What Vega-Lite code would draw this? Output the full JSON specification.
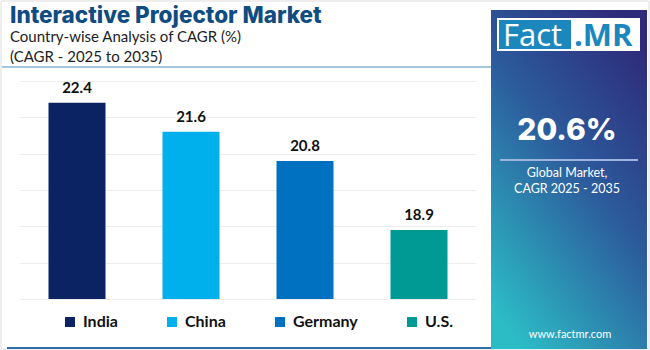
{
  "$schema": "https://vega.github.io/schema/vega-lite/v6.json",
  "width": 456,
  "height": 218,
  "autosize": {"type": "none"},
  "padding": {"left": 20, "top": 81, "right": 174, "bottom": 51},
  "background": "#ffffff",
  "config": {"view": {"stroke": null}, "font": "Lato"},
  "layer": [
    {
      "data": {"values": [{}]},
      "mark": {"type": "rect", "fill": null, "stroke": "#dddddd", "strokeWidth": 1},
      "encoding": {"x": {"value": -19}, "x2": {"value": 629}, "y": {"value": -80}, "y2": {"value": 268}}
    },
    {
      "data": {"values": [{}]},
      "mark": {"type": "rule", "color": "#4a8fc0", "strokeWidth": 1.2},
      "encoding": {"x": {"value": -18}, "x2": {"value": 471}, "y": {"value": -14}}
    },
    {
      "data": {"values": [{}]},
      "mark": {"type": "rule", "color": "#2f6fa3", "strokeWidth": 2},
      "encoding": {"x": {"value": -13}, "x2": {"value": 471}, "y": {"value": 267}}
    },
    {
      "data": {"values": [{}]},
      "mark": {"type": "text", "text": "Interactive Projector Market", "font": "Inter", "fontSize": 22.5, "fontWeight": 800, "color": "#0f4c81", "align": "left", "baseline": "alphabetic"},
      "encoding": {"x": {"value": -10}, "y": {"value": -58}}
    },
    {
      "data": {"values": [{}]},
      "mark": {"type": "text", "text": "Country-wise Analysis of CAGR (%)", "font": "Lato", "fontSize": 15, "color": "#222222", "align": "left", "baseline": "alphabetic"},
      "encoding": {"x": {"value": -10}, "y": {"value": -39}}
    },
    {
      "data": {"values": [{}]},
      "mark": {"type": "text", "text": "(CAGR - 2025 to 2035)", "font": "Lato", "fontSize": 15, "color": "#222222", "align": "left", "baseline": "alphabetic"},
      "encoding": {"x": {"value": -10}, "y": {"value": -19}}
    },
    {
      "data": {"values": [{}]},
      "mark": {"type": "rect", "color": {"gradient": "linear", "x1": 0.8, "y1": 0, "x2": 0.2, "y2": 1, "stops": [{"offset": 0, "color": "#2e2a7a"}, {"offset": 0.45, "color": "#2c5b9c"}, {"offset": 1, "color": "#2cbcc6"}]}},
      "encoding": {"x": {"value": 471}, "x2": {"value": 627}, "y": {"value": -71}, "y2": {"value": 268}}
    },
    {
      "data": {"values": [{}]},
      "mark": {"type": "rect", "color": "#ffffff"},
      "encoding": {"x": {"value": 477}, "x2": {"value": 620}, "y": {"value": -63}, "y2": {"value": -30}}
    },
    {
      "data": {"values": [{}]},
      "mark": {"type": "rect", "color": "#1b87bd"},
      "encoding": {"x": {"value": 479}, "x2": {"value": 551}, "y": {"value": -61}, "y2": {"value": -32}}
    },
    {
      "data": {"values": [{}]},
      "mark": {"type": "text", "text": "Fact", "font": "Open Sans", "fontSize": 31, "color": "#ffffff", "align": "left", "baseline": "alphabetic"},
      "encoding": {"x": {"value": 483}, "y": {"value": -35}}
    },
    {
      "data": {"values": [{}]},
      "mark": {"type": "text", "text": ".MR", "font": "Open Sans", "fontSize": 31, "fontWeight": "bold", "color": "#1b87bd", "align": "left", "baseline": "alphabetic"},
      "encoding": {"x": {"value": 554}, "y": {"value": -35}}
    },
    {
      "data": {"values": [{}]},
      "mark": {"type": "text", "text": "20.6%", "font": "Inter", "fontSize": 30, "fontWeight": 800, "color": "#ffffff", "align": "center", "baseline": "alphabetic"},
      "encoding": {"x": {"value": 547}, "y": {"value": 59}}
    },
    {
      "data": {"values": [{}]},
      "mark": {"type": "rule", "color": "#9fb4dc", "strokeWidth": 2},
      "encoding": {"x": {"value": 480}, "x2": {"value": 618}, "y": {"value": 79}}
    },
    {
      "data": {"values": [{}]},
      "mark": {"type": "text", "text": "Global Market,", "font": "Lato", "fontSize": 12.5, "color": "#ffffff", "align": "center", "baseline": "alphabetic"},
      "encoding": {"x": {"value": 547}, "y": {"value": 96}}
    },
    {
      "data": {"values": [{}]},
      "mark": {"type": "text", "text": "CAGR 2025 - 2035", "font": "Lato", "fontSize": 12.5, "color": "#ffffff", "align": "center", "baseline": "alphabetic"},
      "encoding": {"x": {"value": 547}, "y": {"value": 112}}
    },
    {
      "data": {"values": [{}]},
      "mark": {"type": "text", "text": "www.factmr.com", "font": "Lato", "fontSize": 11, "color": "#ffffff", "align": "center", "baseline": "alphabetic"},
      "encoding": {"x": {"value": 550}, "y": {"value": 257}}
    },
    {
      "data": {"values": [
        {"country": "India", "cagr": 22.4},
        {"country": "China", "cagr": 21.6},
        {"country": "Germany", "cagr": 20.8},
        {"country": "U.S.", "cagr": 18.9}
      ]},
      "encoding": {
        "x": {"field": "country", "type": "nominal", "sort": null, "scale": {"paddingInner": 0.5, "paddingOuter": 0.25}, "axis": null},
        "y": {"field": "cagr", "type": "quantitative", "scale": {"domain": [17, 23], "zero": false, "nice": false}, "axis": {"grid": true, "gridColor": "#ececec", "gridWidth": 1, "domain": false, "ticks": false, "labels": false, "title": null, "values": [17, 18, 19, 20, 21, 22, 23]}}
      },
      "layer": [
        {
          "mark": {"type": "bar"},
          "encoding": {
            "y2": {"datum": 17},
            "color": {"field": "country", "type": "nominal", "sort": null,
              "scale": {"domain": ["India", "China", "Germany", "U.S."], "range": ["#0b2362", "#00b0ec", "#0070c0", "#009a95"]},
              "legend": {"orient": "none", "legendX": 42, "legendY": 233, "direction": "horizontal", "columns": 4, "columnPadding": 46, "title": null, "symbolType": "square", "symbolSize": 100, "symbolStrokeWidth": 0, "symbolOpacity": 1, "labelFont": "Lato", "labelFontSize": 16, "labelFontWeight": "bold", "labelColor": "#111111", "labelOffset": 5}
            }
          }
        },
        {
          "mark": {"type": "text", "baseline": "bottom", "dy": -7, "font": "Lato", "fontSize": 15, "fontWeight": "bold", "color": "#111111"},
          "encoding": {"text": {"field": "cagr", "type": "quantitative", "format": ".1f"}}
        }
      ]
    }
  ]
}
